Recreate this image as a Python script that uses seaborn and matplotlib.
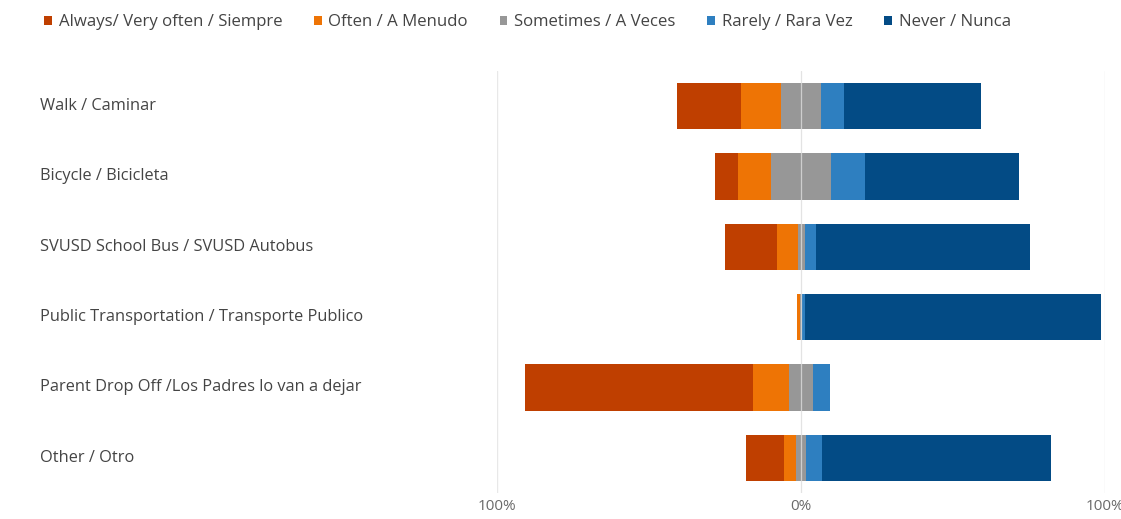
import matplotlib
matplotlib.use("Agg")
import matplotlib.pyplot as plt
from matplotlib.patches import Patch
import numpy as np
import pandas as pd
import seaborn as sns

# Survey: how students get to school (percent of responses per mode)
categories = [
    "Walk / Caminar",
    "Bicycle / Bicicleta",
    "SVUSD School Bus / SVUSD Autobus",
    "Public Transportation / Transporte Publico",
    "Parent Drop Off /Los Padres lo van a dejar",
    "Other / Otro",
]
responses = [
    "Always/ Very often / Siempre",
    "Often / A Menudo",
    "Sometimes / A Veces",
    "Rarely / Rara Vez",
    "Never / Nunca",
]
always = [21.0, 7.7, 17.4, 0.0, 75.1, 12.7]
often = [13.2, 10.7, 6.6, 1.0, 11.8, 3.9]
sometimes = [13.2, 19.8, 2.3, 0.8, 7.8, 3.1]
rarely = [7.7, 11.0, 3.9, 1.0, 5.8, 5.3]
never = [44.9, 50.8, 70.2, 97.2, 0.0, 75.5]
tick_values = [-100, 0, 100]
tick_labels = ["100%", "0%", "100%"]

colors = ["#BF3F00", "#EE7405", "#979797", "#2E7FC0", "#034B85"]

sns.set_theme(style="white")
plt.rcParams["font.family"] = ["Open Sans", "DejaVu Sans"]

df = pd.DataFrame({
    "category": categories,
    "always": always,
    "often": often,
    "sometimes": sometimes,
    "rarely": rarely,
    "never": never,
})

# Diverging layout: "sometimes" is centred on zero
left_always = -(df["always"] + df["often"] + df["sometimes"] / 2)
left_often = left_always + df["always"]
left_some = left_often + df["often"]
left_rarely = left_some + df["sometimes"]
left_never = left_rarely + df["rarely"]

segments = [
    ("always", left_always),
    ("often", left_often),
    ("sometimes", left_some),
    ("rarely", left_rarely),
    ("never", left_never),
]

fig = plt.figure(figsize=(11.21, 5.19), dpi=100)
ax = fig.add_axes([0.4434, 0.0501, 0.5423, 0.8131])

for (col, lefts), c in zip(segments, colors):
    sns.barplot(data=df, x=col, y="category", orient="h", order=categories,
                color=c, width=0.66, left=lefts.to_numpy(), ax=ax,
                errorbar=None, saturation=1, linewidth=0)

ax.set_xlim(-100, 100)
ax.set_ylim(5.5, -0.5)
for v in (-100, 100):
    ax.axvline(v, color="#e8e8e8", lw=1, zorder=0)
ax.axvline(0, color="#dcdcdc", lw=0.9, zorder=5, alpha=0.8)

ax.set_xticks(tick_values)
ax.set_xticklabels(tick_labels, color="#6a6a6a", fontsize=11)
ax.tick_params(axis="x", length=0, pad=4)
ax.tick_params(axis="y", length=0)
ax.set_yticklabels([])
ax.set_xlabel("")
ax.set_ylabel("")
for s in ax.spines.values():
    s.set_visible(False)

# Category labels, left aligned at the figure edge
for i, name in enumerate(categories):
    ax.annotate(name, xy=(40 / 1121, i), xycoords=("figure fraction", "data"),
                ha="left", va="center", fontsize=11.8, color="#444444")

handles = [Patch(facecolor=c, edgecolor="none") for c in colors]
fig.legend(handles, responses, loc="upper left", bbox_to_anchor=(0.029, 0.995),
           ncol=5, frameon=False, fontsize=12.1, handlelength=0.45,
           handleheight=0.45, handletextpad=0.4, columnspacing=1.9,
           labelcolor="#444444", borderaxespad=0.3)

fig.savefig("out.png", dpi=100, facecolor="white")
